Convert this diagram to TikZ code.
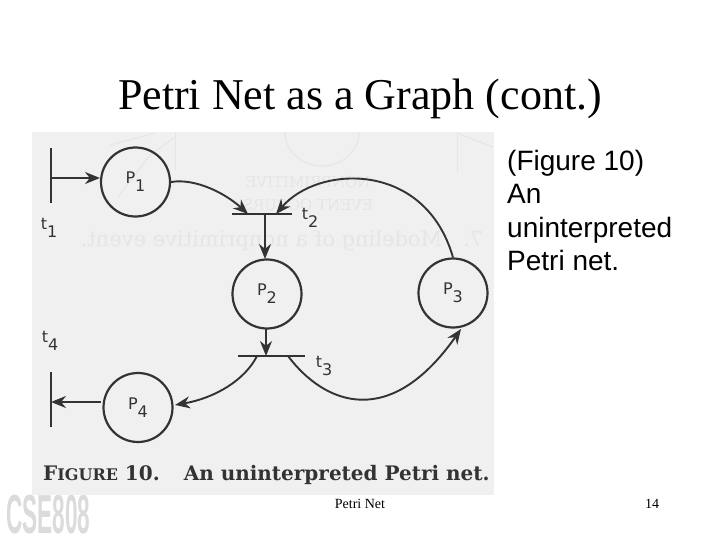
\documentclass[tikz,border=0pt]{standalone}
\usepackage{fontspec}
\setmainfont{Liberation Serif}
\setsansfont{Liberation Sans}
\newfontfamily\labelfont{DejaVu Sans}
\newfontfamily\bookfont{DejaVu Serif}
\usetikzlibrary{arrows.meta}
\definecolor{scan}{gray}{0.94}
\definecolor{ink}{gray}{0.2}
\definecolor{ghost}{gray}{0.9}
\definecolor{logogray}{gray}{0.86}
\newcommand{\pname}[2]{#1\raisebox{-0.5em}{#2}}
\tikzset{
	place/.style={circle, draw=ink, line width=2.2pt, minimum size=69pt, inner sep=0pt, font=\labelfont\fontsize{16}{16}\selectfont, text=ink},
	hbar/.style={draw=none, fill=ink, minimum height=2.2pt, inner sep=0pt, outer sep=0pt},
	vbar/.style={draw=none, fill=ink, minimum width=2.2pt, inner sep=0pt, outer sep=0pt},
	arc/.style={draw=ink, line width=1.9pt, -{Stealth[length=15pt,width=12pt]}},
	tname/.style={font=\labelfont\fontsize{16}{16}\selectfont, text=ink, inner sep=0pt},
	backtext/.style={font=\bookfont\fontsize{15}{15}\selectfont, text=ghost, xscale=-1, inner sep=0pt},
	backline/.style={ghost, line width=1pt}
}
\begin{document}
\begin{tikzpicture}[x=1pt, y=-1pt]
	\useasboundingbox (0, 0) rectangle (720, 540);
	\fill[white] (0, 0) rectangle (720, 540);

	%%%%% SLIDE TEXT %%%%%
	\node[font=\rmfamily\fontsize{44}{44}\selectfont, anchor=base] (title) at (360, 110) {Petri Net as a Graph (cont.)};
	\node[font=\sffamily\fontsize{28}{33.5}\selectfont, align=left, anchor=north west, inner sep=0pt] (note) at (507, 150) {(Figure 10)\\An\\uninterpreted\\Petri net.};
	\node[font=\rmfamily\fontsize{14}{14}\selectfont] (footer) at (360, 504) {Petri Net};
	\node[font=\rmfamily\fontsize{14}{14}\selectfont] (pageno) at (652, 504) {14};
	\node[font=\sffamily\bfseries\fontsize{40}{40}\selectfont, text=logogray, xscale=0.564, yscale=1.375, anchor=west, inner sep=0pt] (logo) at (6, 515) {CSE808};

	%%%%% SCAN %%%%%
	\fill[scan] (32, 132) rectangle (494, 495);
	\node[backtext] (ghosta) at (308, 182) {NONPRIMITIVE};
	\node[backtext] (ghostb) at (308, 205) {EVENT OCCURS};
	\node[backtext, font=\bookfont\fontsize{21}{21}\selectfont] (ghostc) at (282, 241) {7.\quad Modeling of a nonprimitive event.};
	\draw[backline] (285, 132) arc (180:0:37 and 34);
	\draw[backline] (175, 132) -- (175, 170);
	\draw[backline] (175, 137) -- (150, 155) -- (118, 197);
	\draw[backline] (155, 133) -- (110, 145);
	\draw[backline] (457, 133) -- (457, 173);
	\draw[backline] (457, 133) -- (493, 147);

	%%%%% NET %%%%%
	\node[place] (P1) at (135.5, 182) {\pname{P}{1}};
	\node[place] (P2) at (267, 294) {\pname{P}{2}};
	\node[place] (P3) at (453, 293) {\pname{P}{3}};
	\node[place] (P4) at (138, 407.5) {\pname{P}{4}};

	\node[vbar, minimum height=55pt] (t1) at (51, 175.5) {};
	\node[hbar, minimum width=60pt] (t2) at (262, 214) {};
	\node[hbar, minimum width=67pt] (t3) at (271.5, 356) {};
	\node[vbar, minimum height=55pt] (t4) at (51, 399.5) {};

	\coordinate (t1out) at (51, 178);
	\coordinate (P1in) at (100, 178);
	\coordinate (t2left) at (248, 214);
	\coordinate (t2mid) at (265, 214);
	\coordinate (t2right) at (276, 214);
	\coordinate (P2in) at (265, 259);
	\coordinate (P2out) at (266, 329);
	\coordinate (t3in) at (266, 356);
	\coordinate (t3left) at (257, 356);
	\coordinate (t3right) at (288, 356);
	\coordinate (P3in) at (461, 329);
	\coordinate (P4in) at (175, 405);
	\coordinate (P4out) at (101, 402);
	\coordinate (t4in) at (51, 402);

	\node[tname] (t1name) at (49, 228) {\pname{t}{1}};
	\node[tname] (t2name) at (310, 218) {\pname{t}{2}};
	\node[tname] (t3name) at (324, 366) {\pname{t}{3}};
	\node[tname] (t4name) at (50, 341) {\pname{t}{4}};

	\draw[arc] (t1out) -- (P1in);
	\draw[arc] (P1.east) .. controls (195, 178) and (225, 193) .. (t2left);
	\draw[arc] (t2mid) -- (P2in);
	\draw[arc] (P3.north) .. controls (425, 160) and (318, 165) .. (t2right);
	\draw[arc] (P2out) -- (t3in);
	\draw[arc] (t3left) .. controls (245, 380) and (215, 398) .. (P4in);
	\draw[arc] (t3right) .. controls (325, 405) and (390, 430) .. (P3in);
	\draw[arc] (P4out) -- (t4in);

	%%%%% CAPTION %%%%%
	\node[font=\bookfont\bfseries\fontsize{20}{20}\selectfont, text=ink, anchor=base west, inner sep=0pt] (caption) at (43, 480) {F{\fontsize{16}{16}\selectfont IGURE} 10.\hspace{1.2em}An uninterpreted Petri net.};
\end{tikzpicture}
\end{document}
